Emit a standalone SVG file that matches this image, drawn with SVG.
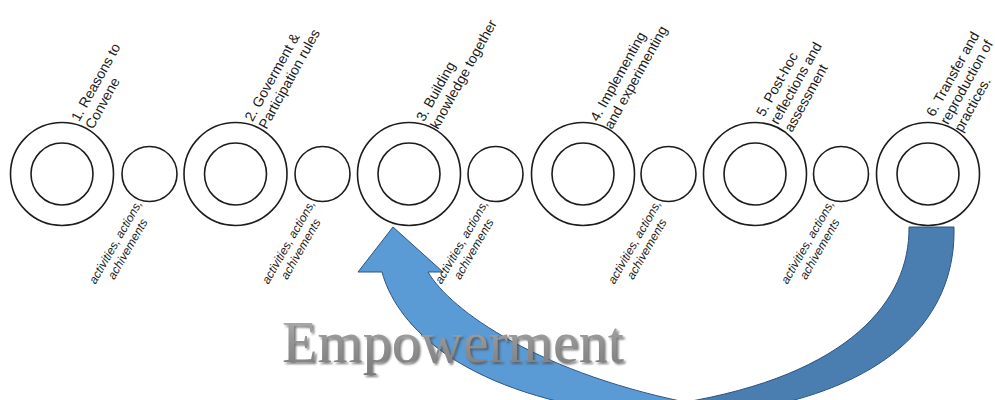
<svg xmlns="http://www.w3.org/2000/svg" width="995" height="400" viewBox="0 0 995 400">
  <style>
    .ring { fill: none; stroke: #1c1c1c; stroke-width: 1.6; }
    .stage { font-family: "Liberation Sans", Arial, sans-serif; font-size: 14px; fill: #1a1a1a; }
    .act { font-family: "Liberation Sans", Arial, sans-serif; font-size: 12px; font-style: italic; fill: #1a1a1a; text-anchor: middle; }
    .big-word { font-family: "Liberation Serif", "Times New Roman", serif; font-size: 60px; }
  </style>
  <defs>
    <linearGradient id="wordFill" x1="0" y1="0" x2="0" y2="1">
      <stop offset="0" stop-color="#b4b4b4"/>
      <stop offset="0.5" stop-color="#939393"/>
      <stop offset="1" stop-color="#7a7a7a"/>
    </linearGradient>
    <filter id="soft" x="-5%" y="-20%" width="110%" height="140%">
      <feGaussianBlur stdDeviation="0.8"/>
    </filter>
  </defs>
  <rect width="995" height="400" fill="#ffffff"/>

  <!-- curved return arrow from stage 6 back to stage 3 -->
  <g id="connectors">
    <path id="arrow-back" fill="#4a7db0" stroke="#2b5482" stroke-width="1"
          d="M909,227 L954,227 C956,310 900,378 770,406 L680,403 C850,375 910,300 909,227 Z"/>
    <path id="arrow-front" fill="#5b9bd5" stroke="#2b5482" stroke-width="1"
          d="M393,227 L443,272 L428,272 C450,310 540,375 700,405 L600,410 C450,385 395,320 382,272 L358,272 Z"/>
  </g>

  <!-- embossed caption: soft dark copy underneath, gradient copy on top -->
  <g id="empowerment-label">
    <text class="big-word" x="284" y="364" fill="#4d4d4d" opacity="0.75" filter="url(#soft)" textLength="342" lengthAdjust="spacingAndGlyphs">Empowerment</text>
    <text class="big-word" x="282" y="362" fill="url(#wordFill)" textLength="342" lengthAdjust="spacingAndGlyphs">Empowerment</text>
  </g>

  <!-- main stages: double ring with rotated caption -->
  <g id="stage-1">
    <circle class="ring" cx="62" cy="174" r="51.5"/>
    <circle class="ring" cx="62" cy="174" r="31"/>
    <text class="stage" transform="translate(93,130) rotate(-61)"><tspan x="0" y="-16">1. Reasons to</tspan><tspan x="0" y="0">Convene</tspan></text>
  </g>
  <g id="stage-2">
    <circle class="ring" cx="235.5" cy="174" r="51.5"/>
    <circle class="ring" cx="235.5" cy="174" r="31"/>
    <text class="stage" transform="translate(266.5,130) rotate(-61)"><tspan x="0" y="-16">2. Goverment &amp;</tspan><tspan x="0" y="0">Participation rules</tspan></text>
  </g>
  <g id="stage-3">
    <circle class="ring" cx="409" cy="174" r="51.5"/>
    <circle class="ring" cx="409" cy="174" r="31"/>
    <text class="stage" transform="translate(438,130) rotate(-61)"><tspan x="0" y="-16">3. Building</tspan><tspan x="0" y="0">knowledge together</tspan></text>
  </g>
  <g id="stage-4">
    <circle class="ring" cx="583" cy="174" r="51.5"/>
    <circle class="ring" cx="583" cy="174" r="31"/>
    <text class="stage" transform="translate(612,130) rotate(-61)"><tspan x="0" y="-16">4. Implementing</tspan><tspan x="0" y="0">and experimenting</tspan></text>
  </g>
  <g id="stage-5">
    <circle class="ring" cx="755" cy="174" r="51.5"/>
    <circle class="ring" cx="755" cy="174" r="31"/>
    <text class="stage" transform="translate(792,133) rotate(-61)"><tspan x="0" y="-32">5. Post-hoc</tspan><tspan x="0" y="-16">reflections and</tspan><tspan x="0" y="0">assessment</tspan></text>
  </g>
  <g id="stage-6">
    <circle class="ring" cx="928" cy="174" r="51.5"/>
    <circle class="ring" cx="928" cy="174" r="31"/>
    <text class="stage" transform="translate(962,133) rotate(-61)"><tspan x="0" y="-32">6. Transfer and</tspan><tspan x="0" y="-16">reproduction of</tspan><tspan x="0" y="0">practices.</tspan></text>
  </g>

  <!-- in-between steps: single ring with rotated italic note -->
  <g id="step-1">
    <circle class="ring" cx="149.5" cy="174" r="27.5"/>
    <text class="act" transform="translate(119,244) rotate(-60)"><tspan x="0" y="0">activities, actions,</tspan><tspan x="0" y="14">achivements</tspan></text>
  </g>
  <g id="step-2">
    <circle class="ring" cx="322.5" cy="174" r="27.5"/>
    <text class="act" transform="translate(292,244) rotate(-60)"><tspan x="0" y="0">activities, actions,</tspan><tspan x="0" y="14">achivements</tspan></text>
  </g>
  <g id="step-3">
    <circle class="ring" cx="495.5" cy="174" r="27.5"/>
    <text class="act" transform="translate(465,244) rotate(-60)"><tspan x="0" y="0">activities, actions,</tspan><tspan x="0" y="14">achivements</tspan></text>
  </g>
  <g id="step-4">
    <circle class="ring" cx="668.5" cy="174" r="27.5"/>
    <text class="act" transform="translate(638,244) rotate(-60)"><tspan x="0" y="0">activities, actions,</tspan><tspan x="0" y="14">achivements</tspan></text>
  </g>
  <g id="step-5">
    <circle class="ring" cx="841" cy="174" r="27.5"/>
    <text class="act" transform="translate(811,244) rotate(-60)"><tspan x="0" y="0">activities, actions,</tspan><tspan x="0" y="14">achivements</tspan></text>
  </g>
</svg>
